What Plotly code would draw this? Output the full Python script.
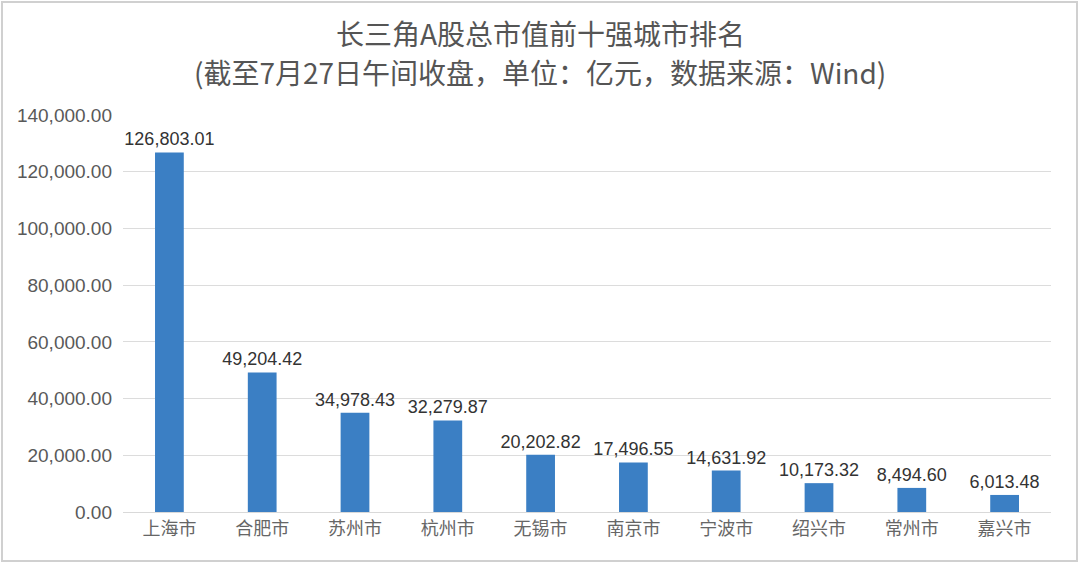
import plotly.graph_objects as go

cities = ["上海市", "合肥市", "苏州市", "杭州市", "无锡市", "南京市", "宁波市", "绍兴市", "常州市", "嘉兴市"]
market_cap = [126803.01, 49204.42, 34978.43, 32279.87, 20202.82, 17496.55, 14631.92, 10173.32, 8494.60, 6013.48]
y_ticks = [0, 20000, 40000, 60000, 80000, 100000, 120000, 140000]

fig = go.Figure(go.Bar(
    x=cities, y=market_cap,
    marker=dict(color="#3b7fc4", line=dict(width=0)),
    width=0.31,
    texttemplate="%{y:,.2f}", textposition="outside", cliponaxis=False,
    constraintext="none",
    textfont=dict(family="Liberation Sans, Arial, sans-serif", size=18, color="#333333"),
))

title_font = dict(family="Noto Sans CJK SC, sans-serif", size=28, color="#555555")

fig.update_layout(
    width=1080, height=564,
    margin=dict(l=123, r=29, t=115, b=52),
    paper_bgcolor="white", plot_bgcolor="white",
    showlegend=False,
    annotations=[
        dict(text="长三角A股总市值前十强城市排名", xref="paper", yref="paper",
             x=(540 - 123) / 928, y=(512 - 33) / 397, xanchor="center", yanchor="middle",
             showarrow=False, font=title_font),
        dict(text="(截至7月27日午间收盘，单位：亿元，数据来源：Wind)", xref="paper", yref="paper",
             x=(540 - 123) / 928, y=(512 - 72) / 397, xanchor="center", yanchor="middle",
             showarrow=False, font=title_font),
    ],
    xaxis=dict(
        tickfont=dict(family="Noto Sans CJK SC, sans-serif", size=18, color="#666666"),
        showline=True, linecolor="#d9d9d9", linewidth=1, ticks="",
    ),
    yaxis=dict(
        range=[0, 140000], tickvals=y_ticks, tickformat=",.2f",
        tickfont=dict(family="Liberation Sans, Arial, sans-serif", size=19, color="#595959"),
        showgrid=True, gridcolor="#dcdcdc", gridwidth=1, zeroline=False,
        ticks="", ticklabelstandoff=10,
    ),
    shapes=[dict(type="rect", xref="paper", yref="paper",
                 x0=(2 - 123) / 928, x1=(1077 - 123) / 928,
                 y0=(512 - 561) / 397, y1=(512 - 2) / 397,
                 line=dict(color="#d0d0d0", width=2), fillcolor="rgba(0,0,0,0)", layer="below")],
)

fig.write_html("out.html")
